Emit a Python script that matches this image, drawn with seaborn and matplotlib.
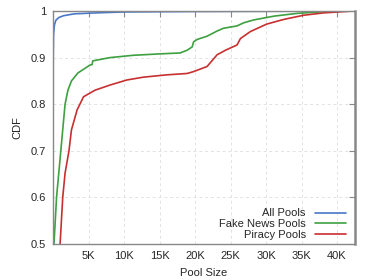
import matplotlib
matplotlib.use("Agg")
import matplotlib.pyplot as plt
import seaborn as sns
import pandas as pd
from matplotlib.ticker import FixedLocator, FuncFormatter

# values (pool size in K, CDF)
all_x = [0.0, 0.03, 0.08, 0.2, 0.4, 0.8, 1.5, 3.0, 6.0, 10.0, 20.0, 42.5]
all_y = [0.3, 0.9, 0.95, 0.97, 0.98, 0.986, 0.99, 0.994, 0.996, 0.998, 0.999, 1.0]

fake_x = [0.0, 0.14, 0.5, 1.1, 1.7, 2.1, 2.6, 3.5, 5.2, 5.5, 5.6, 8.0, 11.3, 15.0,
          17.9, 18.9, 19.6, 19.8, 20.3, 21.7, 23.1, 24.0, 25.9, 26.9, 28.3, 31.1,
          34.4, 37.6, 40.0, 42.5]
fake_y = [0.3, 0.5, 0.6, 0.7, 0.8, 0.83, 0.85, 0.867, 0.884, 0.885, 0.893, 0.9, 0.905,
          0.908, 0.91, 0.916, 0.923, 0.934, 0.939, 0.946, 0.957, 0.963, 0.968, 0.975,
          0.981, 0.989, 0.995, 0.998, 1.0, 1.0]

piracy_x = [0.7, 1.0, 1.37, 1.7, 2.25, 2.6, 3.4, 4.3, 5.9, 8.0, 10.4, 12.7, 16.0,
            18.9, 19.8, 21.7, 23.1, 24.3, 25.9, 26.4, 27.8, 30.1, 32.5, 35.3, 38.1, 42.3]
piracy_y = [0.4, 0.5, 0.6, 0.652, 0.7, 0.745, 0.788, 0.816, 0.83, 0.841, 0.852, 0.858,
            0.863, 0.866, 0.87, 0.881, 0.906, 0.916, 0.927, 0.941, 0.956, 0.972, 0.982,
            0.991, 0.996, 1.0]

labels = ["All Pools", "Fake News Pools", "Piracy Pools"]
colors = ["#4a78c8", "#3ea040", "#c83030"]

df = pd.concat([
    pd.DataFrame({"size": all_x, "cdf": all_y, "pool": labels[0]}),
    pd.DataFrame({"size": fake_x, "cdf": fake_y, "pool": labels[1]}),
    pd.DataFrame({"size": piracy_x, "cdf": piracy_y, "pool": labels[2]}),
])

sns.set_style("white")
plt.rcParams["font.family"] = ["Liberation Sans", "DejaVu Sans"]

fig = plt.figure(figsize=(3.74, 2.8), dpi=100)
ax = fig.add_axes([0.1417, 0.1286, 0.807, 0.832])

sns.lineplot(data=df, x="size", y="cdf", hue="pool", hue_order=labels,
             palette=colors, linewidth=1.2, sort=False, estimator=None, ax=ax)

ax.set_xlim(0, 42.5)
ax.set_ylim(0.5, 1.0)
ax.xaxis.set_major_locator(FixedLocator([5, 10, 15, 20, 25, 30, 35, 40]))
ax.xaxis.set_major_formatter(FuncFormatter(lambda v, p: f"{int(v)}K"))
ax.yaxis.set_major_locator(FixedLocator([0.5, 0.6, 0.7, 0.8, 0.9, 1.0]))
ax.yaxis.set_major_formatter(FuncFormatter(lambda v, p: "1" if v == 1 else f"{v:.1f}"))
ax.tick_params(direction="in", length=4, color="#888888", labelsize=8,
               top=True, right=True, pad=5)
ax.grid(True, color="#e2e2e2", linestyle=(0, (3, 3)), linewidth=0.7)
for name, sp in ax.spines.items():
    sp.set_color("#888888")
    sp.set_linewidth(1.0)
ax.spines["right"].set_linewidth(1.8)

ax.set_xlabel("Pool Size", fontsize=8, labelpad=5)
ax.set_ylabel("CDF", fontsize=8, labelpad=6)

leg = ax.legend(loc="lower right", frameon=False, markerfirst=False, fontsize=8,
                handlelength=2.8, labelspacing=0.05, borderaxespad=0.0,
                bbox_to_anchor=(0.985, 0.0))

fig.savefig("out.png", dpi=100)
